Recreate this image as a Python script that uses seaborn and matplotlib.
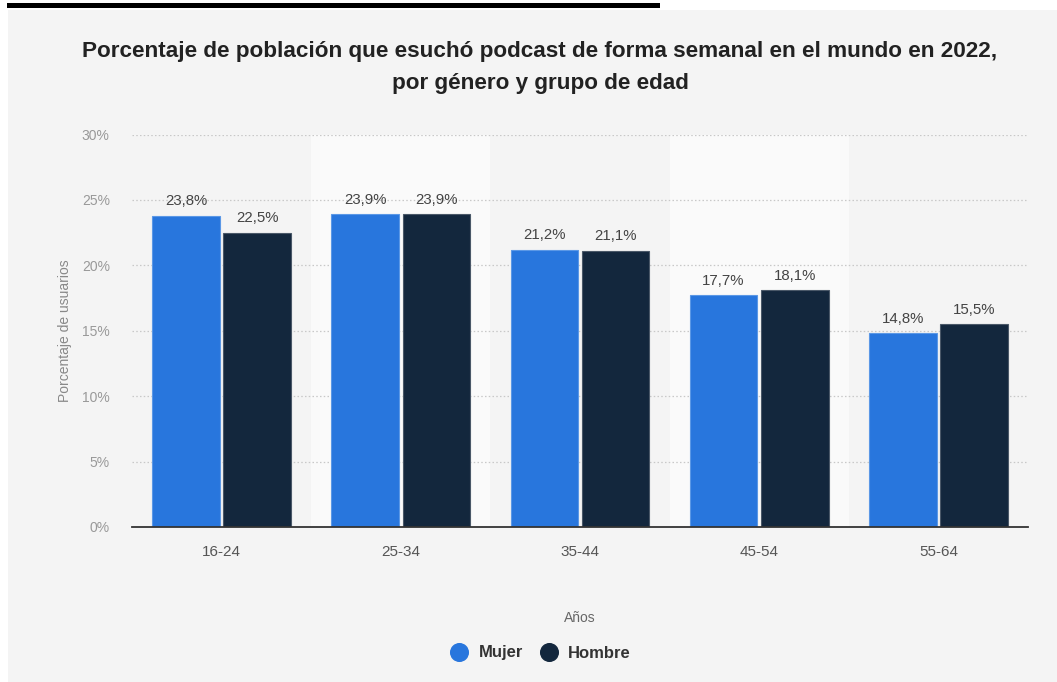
import matplotlib
matplotlib.use("Agg")
import matplotlib.pyplot as plt
from matplotlib.patches import Rectangle
from matplotlib.lines import Line2D
import seaborn as sns
import pandas as pd

# ---- data ----
age_groups = ["16-24", "25-34", "35-44", "45-54", "55-64"]
mujer = [23.8, 23.9, 21.2, 17.7, 14.8]
hombre = [22.5, 23.9, 21.1, 18.1, 15.5]
series_names = ["Mujer", "Hombre"]
y_ticks = [0, 5, 10, 15, 20, 25, 30]

title = ("Porcentaje de población que esuchó podcast de forma semanal en el mundo en 2022,\n"
         "por género y grupo de edad")
x_label = "Años"
y_label = "Porcentaje de usuarios"

colors = {"Mujer": "#2876dd", "Hombre": "#13273d"}
edge_colors = {"Mujer": "#5b98e6", "Hombre": "#4a5868"}

df = pd.DataFrame({
    "Edad": age_groups * 2,
    "Valor": mujer + hombre,
    "Genero": [series_names[0]] * len(age_groups) + [series_names[1]] * len(age_groups),
})

sns.set_theme(style="white")
plt.rcParams["font.family"] = ["Liberation Sans", "DejaVu Sans"]

W, H = 1057, 682
fig = plt.figure(figsize=(W / 100, H / 100), dpi=100, facecolor="white")
# grey panel and black strip at top
fig.patches.append(Rectangle((8 / W, 0), 1 - 8 / W, 1 - 10 / H, transform=fig.transFigure,
                             facecolor="#f4f4f4", edgecolor="none", zorder=-10))
fig.patches.append(Rectangle((7 / W, 1 - 7.5 / H), (660 - 7) / W, 4.5 / H, transform=fig.transFigure,
                             facecolor="black", edgecolor="none", zorder=-9))

ax = fig.add_axes([132 / W, 1 - 527 / H, (1028 - 132) / W, (527 - 134.5) / H])
ax.set_facecolor("none")

# alternating bands
for i in range(len(age_groups)):
    if i % 2 == 1:
        ax.axvspan(i - 0.5, i + 0.5, color="#fafafa", zorder=0, lw=0)

sns.barplot(data=df, x="Edad", y="Valor", hue="Genero", order=age_groups,
            hue_order=series_names, palette=colors, width=0.796, gap=0.053,
            ax=ax, legend=False, zorder=3, linewidth=0.8, saturation=1)

for cont, name in zip(ax.containers, series_names):
    for bar in cont:
        bar.set_edgecolor(edge_colors[name])
    labels = [f"{v:.1f}%".replace(".", ",") for v in cont.datavalues]
    ax.bar_label(cont, labels=labels, padding=5.5, fontsize=10.8, color="#444444")

ax.set_xlim(-0.5, len(age_groups) - 0.5)
ax.set_ylim(0, 30)
ax.set_yticks(y_ticks)
ax.set_yticklabels([f"{t}%" for t in y_ticks])
ax.yaxis.grid(True, linestyle=(0, (1.2, 1.8)), color="#c8c8c8", linewidth=0.9, zorder=1)
ax.set_axisbelow(True)
for s in ["top", "right", "left"]:
    ax.spines[s].set_visible(False)
ax.spines["bottom"].set_color("#333333")
ax.spines["bottom"].set_linewidth(1.3)
ax.spines["bottom"].set_zorder(5)
ax.tick_params(axis="y", length=0, labelsize=10, labelcolor="#999999", pad=16)
ax.tick_params(axis="x", length=0, labelsize=11, labelcolor="#555555", pad=13)

ax.set_xlabel(x_label, fontsize=10, color="#666666", labelpad=37.5)
ax.set_ylabel(y_label, fontsize=10, color="#888888", labelpad=7)

fig.text(540 / W, 1 - 67.5 / H, title, ha="center", va="center", fontsize=16.2,
         fontweight="bold", color="#222222", linespacing=1.75)

handles = [Line2D([], [], marker="o", linestyle="", markersize=12.7,
                  markerfacecolor=colors[n], markeredgecolor=colors[n], label=n)
           for n in series_names]
leg = fig.legend(handles=handles, loc="center", bbox_to_anchor=(540.5 / W, 1 - 653 / H), ncol=2,
                 frameon=False, handlelength=1.1, handletextpad=0.6, columnspacing=1.0,
                 prop={"weight": "bold", "size": 12})
for t in leg.get_texts():
    t.set_color("#333333")

fig.savefig("out.png", dpi=100, facecolor="white")
